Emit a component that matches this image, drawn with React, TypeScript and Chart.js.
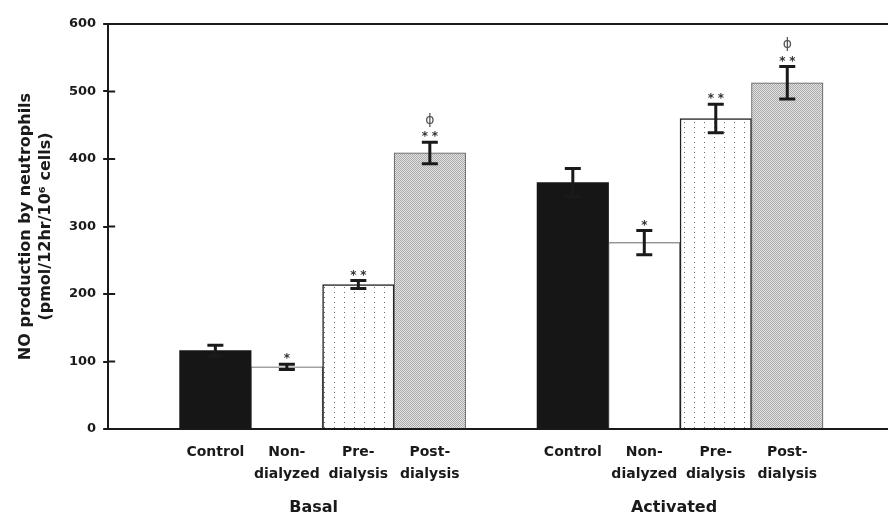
import React, { useEffect, useRef } from 'react';
import { Chart, registerables } from 'chart.js';

Chart.register(...registerables);

// ---- data ----
const groups = ['Basal', 'Activated'];
const conditions: (string | string[])[] = ['Control', ['Non-', 'dialyzed'], ['Pre-', 'dialysis'], ['Post-', 'dialysis']];
const basalMeans = [116, 92, 214, 409];
const basalErrors = [8, 4, 6, 16];
const activatedMeans = [365, 276, 460, 513];
const activatedErrors = [21, 18, 21, 24];
const basalStars = [0, 1, 2, 2];
const activatedStars = [0, 1, 2, 2];
const basalPhi = [false, false, false, true];
const activatedPhi = [false, false, false, true];
const yTitle = ['NO production by neutrophils', '(pmol/12hr/10\u2076 cells)'];
const yMin = 0;
const yMax = 600;
const yStep = 100;

const FONT = "'DejaVu Sans', sans-serif";

function makePattern(kind: 'dots' | 'stipple'): CanvasPattern | string {
  const c = document.createElement('canvas');
  const ctx = c.getContext('2d');
  if (!ctx) return '#ccc';
  if (kind === 'dots') {
    c.width = 10; c.height = 10;
    ctx.fillStyle = '#ffffff';
    ctx.fillRect(0, 0, 10, 10);
    ctx.fillStyle = '#6a6a6a';
    ctx.fillRect(4, 2, 1, 1);
    ctx.fillRect(4, 7, 1, 1);
  } else {
    c.width = 2; c.height = 2;
    ctx.fillStyle = '#e2e2e2';
    ctx.fillRect(0, 0, 2, 2);
    ctx.fillStyle = '#ababab';
    ctx.fillRect(0, 0, 1, 1);
    ctx.fillRect(1, 1, 1, 1);
  }
  return ctx.createPattern(c, 'repeat') || '#ccc';
}

export default function App() {
  const ref = useRef<HTMLCanvasElement>(null);

  useEffect(() => {
    const canvas = ref.current;
    if (!canvas) return;

    const labels = ['', ...conditions, '', ...conditions, ''];
    const means = [null, ...basalMeans, null, ...activatedMeans, null];
    const errs = [null, ...basalErrors, null, ...activatedErrors, null];
    const stars = [0, ...basalStars, 0, ...activatedStars, 0];
    const phis = [false, ...basalPhi, false, ...activatedPhi, false];

    const dots = makePattern('dots');
    const stipple = makePattern('stipple');
    const condFill = ['#161616', '#ffffff', dots, stipple];
    const condBorder = ['#161616', '#444444', '#222222', '#555555'];
    const condBorderW = [0, 1, 1.5, 1];
    const fills = [null, ...condFill, null, ...condFill, null];
    const borders = [null, ...condBorder, null, ...condBorder, null];
    const borderWs = [0, ...condBorderW, 0, ...condBorderW, 0];

    const decorPlugin = {
      id: 'decor',
      afterDatasetsDraw(chart: any) {
        const { ctx, chartArea, scales } = chart;
        const y = scales.y;
        const meta = chart.getDatasetMeta(0);
        ctx.save();
        // top frame line
        ctx.strokeStyle = '#1a1a1a';
        ctx.lineWidth = 2;
        ctx.beginPath();
        ctx.moveTo(chartArea.left - 1, chartArea.top);
        ctx.lineTo(chart.width, chartArea.top);
        ctx.stroke();
        // inner tick marks
        y.ticks.forEach((t: any) => {
          const py = y.getPixelForValue(t.value);
          ctx.beginPath();
          ctx.moveTo(chartArea.left, py);
          ctx.lineTo(chartArea.left + 7, py);
          ctx.stroke();
        });
        // error bars + marks
        meta.data.forEach((el: any, i: number) => {
          const m = means[i];
          const e = errs[i];
          if (m == null || e == null) return;
          const x = el.x;
          const yt = y.getPixelForValue(m + e);
          const yb = y.getPixelForValue(m - e);
          ctx.strokeStyle = '#1a1a1a';
          ctx.lineWidth = 3;
          ctx.beginPath();
          ctx.moveTo(x, yb);
          ctx.lineTo(x, yt);
          ctx.moveTo(x - 8, yt);
          ctx.lineTo(x + 8, yt);
          ctx.moveTo(x - 8, yb);
          ctx.lineTo(x + 8, yb);
          ctx.stroke();
          ctx.fillStyle = '#333';
          ctx.textAlign = 'center';
          ctx.textBaseline = 'alphabetic';
          ctx.font = `bold 12px ${FONT}`;
          const sy = yt - 2;
          if (stars[i] === 1) {
            ctx.fillText('*', x, sy);
          } else if (stars[i] === 2) {
            ctx.fillText('*', x - 5, sy);
            ctx.fillText('*', x + 5, sy);
          }
          if (phis[i]) {
            ctx.font = `14px ${FONT}`;
            ctx.fillStyle = '#555';
            ctx.textBaseline = 'middle';
            ctx.fillText('\u03D5', x, yt - 22);
          }
        });
        // group labels
        ctx.fillStyle = '#1a1a1a';
        ctx.font = `bold 16px ${FONT}`;
        ctx.textAlign = 'center';
        ctx.textBaseline = 'middle';
        const gy = chartArea.bottom + 79;
        const offs = [-9, -6];
        groups.forEach((g, gi) => {
          const a = meta.data[1 + gi * 5];
          const b = meta.data[4 + gi * 5];
          ctx.fillText(g, (a.x + b.x) / 2 + offs[gi], gy);
        });
        ctx.restore();
      },
    };

    const chart = new Chart(canvas, {
      type: 'bar',
      data: {
        labels,
        datasets: [
          {
            data: means as any,
            backgroundColor: fills as any,
            borderColor: borders as any,
            borderWidth: borderWs as any,
            borderSkipped: 'bottom',
            barPercentage: 1,
            categoryPercentage: 1,
          },
        ],
      },
      options: {
        responsive: false,
        animation: false,
        devicePixelRatio: 1,
        layout: { padding: { left: 12, right: 5.5, top: 24, bottom: 20 } },
        plugins: { legend: { display: false }, tooltip: { enabled: false } },
        scales: {
          x: {
            type: 'category',
            grid: { display: false, drawTicks: false },
            border: { display: true, color: '#1a1a1a', width: 2 },
            ticks: {
              autoSkip: false,
              maxRotation: 0,
              minRotation: 0,
              padding: 12,
              color: '#1a1a1a',
              font: { family: FONT, weight: 'bold', size: 14, lineHeight: 22 / 14 },
            },
          },
          y: {
            min: yMin,
            max: yMax,
            ticks: {
              stepSize: yStep,
              padding: 7,
              color: '#1a1a1a',
              font: { family: FONT, weight: 'bold', size: 13 },
            },
            grid: { display: true, drawOnChartArea: false, drawTicks: true, tickLength: 5, color: '#1a1a1a', lineWidth: 2 },
            border: { display: true, color: '#1a1a1a', width: 2 },
            title: {
              display: true,
              text: yTitle,
              color: '#1a1a1a',
              padding: { top: 4, bottom: 6 },
              font: { family: FONT, weight: 'bold', size: 16, lineHeight: 1.25 },
            },
          },
        },
      },
      plugins: [decorPlugin],
    });

    return () => chart.destroy();
  }, []);

  return (
    <div style={{ position: 'fixed', left: 0, top: 0, width: 888, height: 517, overflow: 'hidden', background: '#fff' }}>
      <canvas ref={ref} width={900} height={517} style={{ display: 'block' }} />
    </div>
  );
}
